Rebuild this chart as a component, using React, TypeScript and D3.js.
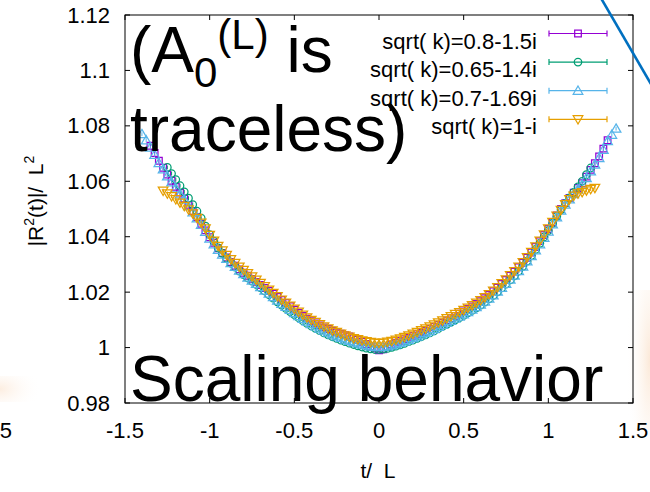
import React from 'react';
import * as d3 from 'd3';

// ---------- data ----------
const xTicks = [-1.5, -1, -0.5, 0, 0.5, 1, 1.5];
const yTicks = [0.98, 1, 1.02, 1.04, 1.06, 1.08, 1.1, 1.12];
const legendLabels = ['sqrt( k)=0.8-1.5i', 'sqrt( k)=0.65-1.4i', 'sqrt( k)=0.7-1.69i', 'sqrt( k)=1-i'];

const tStep = 0.025;

const purpleStart = -1.35;
const purpleY = [
  1.0728, 1.0702, 1.0674, 1.0649, 1.0624, 1.0602, 1.0580, 1.0559, 1.0538, 1.0515,
  1.0493, 1.0470, 1.0447, 1.0423, 1.0398, 1.0378, 1.0358, 1.0341, 1.0325, 1.0309,
  1.0295, 1.0282, 1.0270, 1.0259, 1.0248, 1.0237, 1.0226, 1.0215, 1.0204, 1.0194,
  1.0183, 1.0172, 1.0161, 1.0149, 1.0137, 1.0125, 1.0114, 1.0104, 1.0095, 1.0087,
  1.0080, 1.0073, 1.0067, 1.0061, 1.0055, 1.0050, 1.0045, 1.0040, 1.0034, 1.0028,
  1.0021, 1.0013, 1.0004, 0.9996, 0.9990, 0.9994, 1.0003, 1.0011, 1.0018, 1.0024,
  1.0030, 1.0036, 1.0042, 1.0048, 1.0054, 1.0060, 1.0067, 1.0074, 1.0082, 1.0090,
  1.0098, 1.0106, 1.0114, 1.0122, 1.0130, 1.0139, 1.0148, 1.0157, 1.0167, 1.0178,
  1.0190, 1.0203, 1.0216, 1.0230, 1.0244, 1.0259, 1.0274, 1.0290, 1.0306, 1.0324,
  1.0343, 1.0363, 1.0384, 1.0406, 1.0428, 1.0452, 1.0477, 1.0500, 1.0521, 1.0540,
  1.0559, 1.0576, 1.0593, 1.0617, 1.0641, 1.0665, 1.0690, 1.0718, 1.0748,
];

const greenStart = -1.25;
const greenY = [
  1.0650, 1.0628, 1.0606, 1.0584, 1.0562, 1.0539, 1.0516, 1.0492, 1.0467, 1.0438,
  1.0408, 1.0384, 1.0360, 1.0340, 1.0322, 1.0305, 1.0290, 1.0276, 1.0263, 1.0251,
  1.0240, 1.0228, 1.0216, 1.0204, 1.0191, 1.0178, 1.0165, 1.0153, 1.0141, 1.0130,
  1.0119, 1.0108, 1.0097, 1.0087, 1.0078, 1.0069, 1.0061, 1.0053, 1.0046, 1.0039,
  1.0033, 1.0027, 1.0021, 1.0016, 1.0011, 1.0006, 1.0002, 0.9998, 0.9995, 0.9993,
  0.9993, 0.9994, 0.9997, 1.0001, 1.0005, 1.0010, 1.0015, 1.0021, 1.0027, 1.0033,
  1.0039, 1.0046, 1.0053, 1.0060, 1.0068, 1.0076, 1.0084, 1.0092, 1.0100, 1.0108,
  1.0116, 1.0125, 1.0134, 1.0143, 1.0153, 1.0164, 1.0176, 1.0188, 1.0201, 1.0215,
  1.0229, 1.0244, 1.0259, 1.0276, 1.0293, 1.0312, 1.0332, 1.0354, 1.0376, 1.0399,
  1.0422, 1.0448, 1.0473, 1.0497, 1.0520, 1.0540, 1.0560, 1.0580, 1.0600, 1.0624,
  1.0648,
];

const blueStart = -1.4;
const blueY = [
  1.0770, 1.0748, 1.0722, 1.0696, 1.0666, 1.0643, 1.0618, 1.0596, 1.0575, 1.0553,
  1.0534, 1.0511, 1.0488, 1.0466, 1.0443, 1.0418, 1.0393, 1.0373, 1.0353, 1.0336,
  1.0320, 1.0305, 1.0291, 1.0278, 1.0265, 1.0253, 1.0242, 1.0230, 1.0218, 1.0206,
  1.0195, 1.0182, 1.0170, 1.0158, 1.0147, 1.0136, 1.0125, 1.0114, 1.0104, 1.0094,
  1.0085, 1.0077, 1.0069, 1.0061, 1.0054, 1.0047, 1.0041, 1.0035, 1.0029, 1.0024,
  1.0019, 1.0015, 1.0011, 1.0008, 1.0005, 1.0003, 1.0002, 1.0003, 1.0005, 1.0008,
  1.0012, 1.0017, 1.0022, 1.0028, 1.0034, 1.0040, 1.0047, 1.0053, 1.0060, 1.0067,
  1.0075, 1.0082, 1.0090, 1.0097, 1.0105, 1.0112, 1.0120, 1.0128, 1.0137, 1.0146,
  1.0155, 1.0166, 1.0177, 1.0189, 1.0202, 1.0216, 1.0230, 1.0245, 1.0260, 1.0276,
  1.0292, 1.0311, 1.0330, 1.0351, 1.0373, 1.0396, 1.0419, 1.0445, 1.0470, 1.0494,
  1.0516, 1.0535, 1.0554, 1.0571, 1.0588, 1.0612, 1.0636, 1.0660, 1.0684, 1.0714,
  1.0745, 1.0768, 1.0790,
];

const orangeStart = -1.275;
const orangeY = [
  1.0566, 1.0556, 1.0546, 1.0535, 1.0523, 1.0511, 1.0498, 1.0484, 1.0468, 1.0451,
  1.0430, 1.0406, 1.0386, 1.0367, 1.0350, 1.0334, 1.0319, 1.0305, 1.0292, 1.0280,
  1.0268, 1.0257, 1.0245, 1.0233, 1.0221, 1.0209, 1.0197, 1.0185, 1.0173, 1.0162,
  1.0151, 1.0140, 1.0129, 1.0119, 1.0109, 1.0100, 1.0092, 1.0084, 1.0076, 1.0069,
  1.0062, 1.0056, 1.0050, 1.0044, 1.0039, 1.0034, 1.0030, 1.0026, 1.0023, 1.0020,
  1.0018, 1.0017, 1.0018, 1.0021, 1.0024, 1.0028, 1.0033, 1.0038, 1.0044, 1.0050,
  1.0056, 1.0063, 1.0069, 1.0076, 1.0083, 1.0091, 1.0098, 1.0106, 1.0113, 1.0121,
  1.0128, 1.0136, 1.0144, 1.0153, 1.0162, 1.0171, 1.0182, 1.0193, 1.0205, 1.0218,
  1.0232, 1.0246, 1.0261, 1.0276, 1.0292, 1.0308, 1.0326, 1.0345, 1.0365, 1.0386,
  1.0408, 1.0430, 1.0453, 1.0476, 1.0497, 1.0517, 1.0535, 1.0548, 1.0556, 1.0561,
  1.0567, 1.0572, 1.0576,
];

const errPurple = 0.0009;
const errGreen = 0.0007;
const errBlue = 0.0007;
const errOrange = 0.0007;

// ---------- styling ----------
const W = 650;
const H = 492;
const FONT = "'Liberation Sans', Arial, Helvetica, sans-serif";
const colors = ['#9400d3', '#009e73', '#56b4e9', '#e69f00'];

type Series = { start: number; ys: number[]; err: number; color: string; shape: string };

const seriesList: Series[] = [
  { start: purpleStart, ys: purpleY, err: errPurple, color: colors[0], shape: 'square' },
  { start: greenStart, ys: greenY, err: errGreen, color: colors[1], shape: 'circle' },
  { start: blueStart, ys: blueY, err: errBlue, color: colors[2], shape: 'triangle' },
  { start: orangeStart, ys: orangeY, err: errOrange, color: colors[3], shape: 'invtriangle' },
];

function markerPath(shape: string): string {
  if (shape === 'square') return d3.symbol().type(d3.symbolSquare).size(44)() as string;
  if (shape === 'circle') return d3.symbol().type(d3.symbolCircle).size(44)() as string;
  return d3.symbol().type(d3.symbolTriangle).size(40)() as string;
}

function Marker({ cx, cy, shape, color }: { cx: number; cy: number; shape: string; color: string }) {
  const rot = shape === 'invtriangle' ? ' rotate(180)' : '';
  const dy = shape === 'triangle' ? 0.8 : shape === 'invtriangle' ? -0.8 : 0;
  return (
    <path
      d={markerPath(shape)}
      transform={`translate(${cx},${cy + dy})${rot}`}
      fill="none"
      stroke={color}
      strokeWidth={1.25}
    />
  );
}

export default function App() {
  const x = d3.scaleLinear().domain([-1.5, 1.5]).range([125, 633]);
  const y = d3.scaleLinear().domain([0.98, 1.12]).range([403, 15]);
  const [x0, x1] = x.range();
  const [y0, y1] = y.range();

  const legendX1 = 549;
  const legendX2 = 607;
  const legendY0 = 33.5;
  const legendDy = 28.6;

  return (
    <svg
      width={W}
      height={H}
      viewBox={`0 0 ${W} ${H}`}
      style={{ position: 'absolute', left: 0, top: 0, background: '#fff' }}
      fontFamily={FONT}
    >
      <defs>
        <radialGradient id="peachR" cx="1" cy="0.5" r="1">
          <stop offset="0" stopColor="#fbe6d3" stopOpacity="0.9" />
          <stop offset="1" stopColor="#ffffff" stopOpacity="0" />
        </radialGradient>
        <radialGradient id="peachL" cx="0" cy="0.5" r="1">
          <stop offset="0" stopColor="#fbe6d3" stopOpacity="0.7" />
          <stop offset="1" stopColor="#ffffff" stopOpacity="0" />
        </radialGradient>
      </defs>
      <rect x={0} y={0} width={W} height={H} fill="#fff" />
      <rect x={626} y={290} width={24} height={140} fill="url(#peachR)" />
      <rect x={0} y={376} width={42} height={26} fill="url(#peachL)" />

      {/* partial tick label from neighbouring chart */}
      <text x={12} y={438} fontSize={22} textAnchor="end" fill="#000">1.5</text>

      {/* data: error bars + markers */}
      {seriesList.map((s, si) => (
        <g key={si}>
          {s.ys.map((v, i) => {
            const t = s.start + i * tStep;
            const cx = x(t);
            return (
              <line
                key={'e' + i}
                x1={cx}
                x2={cx}
                y1={y(v - s.err)}
                y2={y(v + s.err)}
                stroke={s.color}
                strokeWidth={1}
              />
            );
          })}
          {s.ys.map((v, i) => {
            const t = s.start + i * tStep;
            return <Marker key={'m' + i} cx={x(t)} cy={y(v)} shape={s.shape} color={s.color} />;
          })}
        </g>
      ))}

      {/* frame */}
      <rect x={x0} y={y1} width={x1 - x0} height={y0 - y1} fill="none" stroke="#000" strokeWidth={1} />

      {/* ticks */}
      {yTicks.map((v) => (
        <g key={'y' + v}>
          <line x1={x0} x2={x0 + 5} y1={y(v)} y2={y(v)} stroke="#000" strokeWidth={1} />
          <line x1={x1} x2={x1 - 5} y1={y(v)} y2={y(v)} stroke="#000" strokeWidth={1} />
          <text x={110} y={y(v) + 7.5} fontSize={22} textAnchor="end" fill="#000">
            {String(v)}
          </text>
        </g>
      ))}
      {xTicks.map((v) => (
        <g key={'x' + v}>
          <line x1={x(v)} x2={x(v)} y1={y0} y2={y0 - 5} stroke="#000" strokeWidth={1} />
          <line x1={x(v)} x2={x(v)} y1={y1} y2={y1 + 5} stroke="#000" strokeWidth={1} />
          <text x={x(v)} y={438} fontSize={22} textAnchor="middle" fill="#000">
            {String(v)}
          </text>
        </g>
      ))}

      {/* axis labels */}
      <text transform="translate(43,201) rotate(-90)" fontSize={21} textAnchor="middle" fill="#000" xmlSpace="preserve">
        |R<tspan fontSize={14} dy={-9}>2</tspan>
        <tspan dy={9}>(t)|/  L</tspan>
        <tspan fontSize={14} dy={-9}>2</tspan>
      </text>
      <text x={378} y={478} fontSize={21} textAnchor="middle" fill="#000" xmlSpace="preserve">
        t/  L
      </text>

      {/* legend */}
      {legendLabels.map((lab, i) => {
        const ly = legendY0 + i * legendDy;
        const s = seriesList[i];
        return (
          <g key={'l' + i}>
            <text x={537} y={ly + 15} fontSize={22} textAnchor="end" fill="#000" xmlSpace="preserve">
              {lab}
            </text>
            <line x1={legendX1} x2={legendX2} y1={ly} y2={ly} stroke={s.color} strokeWidth={1.2} />
            <line x1={legendX1} x2={legendX1} y1={ly - 3} y2={ly + 3} stroke={s.color} strokeWidth={1.2} />
            <line x1={legendX2} x2={legendX2} y1={ly - 3} y2={ly + 3} stroke={s.color} strokeWidth={1.2} />
            <Marker cx={(legendX1 + legendX2) / 2} cy={ly} shape={s.shape} color={s.color} />
          </g>
        );
      })}

      {/* slide overlay text */}
      <text x={130} y={72} fontSize={64} fill="#000" xmlSpace="preserve">
        (A<tspan fontSize={42} dy={15}>0</tspan>
        <tspan fontSize={42} dy={-38}>(L)</tspan>
        <tspan dy={23}> is</tspan>
      </text>
      <text x={130} y={151} fontSize={64} fill="#000">traceless)</text>
      <text x={130} y={401} fontSize={64} fill="#000">Scaling behavior</text>

      {/* slide decoration line */}
      <line x1={601.5} y1={-1} x2={651} y2={84} stroke="#0070c0" strokeWidth={2.6} />
    </svg>
  );
}
